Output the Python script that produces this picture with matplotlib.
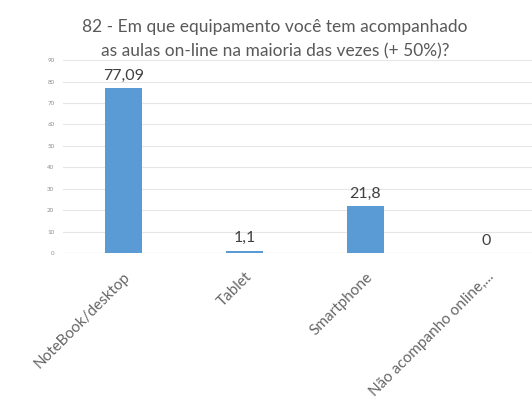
import matplotlib.pyplot as plt

# dados do gráfico
categorias = ['NoteBook/desktop', 'Tablet', 'Smartphone', 'Não acompanho online,...']
valores = [77.09, 1.1, 21.8, 0]
rotulos = ['77,09', '1,1', '21,8', '0']
ticks_y = [0, 10, 20, 30, 40, 50, 60, 70, 80, 90]

plt.rcParams['font.family'] = ['Lato', 'DejaVu Sans']

fig = plt.figure(figsize=(5.32, 4.12), dpi=100)
ax = fig.add_axes([0.118, 0.386, 0.91, 0.468])

x = range(len(categorias))
ax.bar(x, valores, width=0.31, color='#5b9bd5', zorder=3)
for xi, v, r in zip(x, valores, rotulos):
    ax.text(xi, v + 2.5, r, ha='center', va='bottom', fontsize=11.5, color='#404040')

ax.set_ylim(0, 90)
ax.set_xlim(-0.5, 3.5)
ax.set_yticks(ticks_y)
ax.set_yticklabels([str(t) for t in ticks_y], fontsize=4.5, color='#909090')
ax.set_xticks(list(x))
ax.set_xticklabels(categorias, rotation=45, ha='right', rotation_mode='anchor',
                   fontsize=11, color='#666666')
ax.tick_params(length=0, pad=6)
ax.tick_params(axis='x', pad=12)
ax.grid(axis='y', color='#e6e6e6', linewidth=0.8, zorder=0)
for s in ax.spines.values():
    s.set_visible(False)
ax.axhline(0, color='#e0e0e0', linewidth=0.8, zorder=1)

fig.text(0.517, 0.905, '82 - Em que equipamento você tem acompanhado\nas aulas on-line na maioria das vezes (+ 50%)?',
         ha='center', va='center', fontsize=12.5, color='#595959', linespacing=1.6)

fig.savefig('out.png', dpi=100)
